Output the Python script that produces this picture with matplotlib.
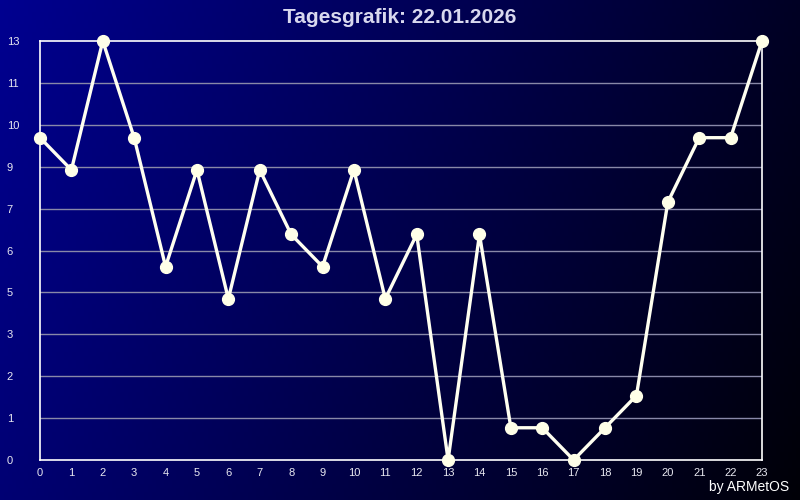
import matplotlib

matplotlib.use("Agg")
import matplotlib.pyplot as plt  # noqa: E402
import numpy as np  # noqa: E402

hours = list(range(24))
values = [10, 9, 13, 10, 6, 9, 5, 9, 7, 6, 9, 5, 7, 0, 7, 1, 1, 0, 1, 2, 8, 10, 10, 13]
y_max = 13
n_grid = 10
title = "Tagesgrafik: 22.01.2026"
credit = "by ARMetOS"

plt.rcParams["font.family"] = ["Liberation Sans", "DejaVu Sans"]

fig = plt.figure(figsize=(8, 5), dpi=100)

# background gradient: dark blue top-left fading to black bottom-right
bg = fig.add_axes([0, 0, 1, 1], zorder=-10)
xx, yy = np.meshgrid(np.linspace(0, 1, 200), np.linspace(0, 1, 125))
blue = 0x90 / 255 * np.clip(1 - 0.75 * xx - 0.2 * yy, 0, 1)
img = np.dstack([np.zeros_like(blue), np.zeros_like(blue), blue])
bg.imshow(img, aspect="auto", extent=(0, 1, 1, 0))
bg.set_axis_off()

ax = fig.add_axes([0.05, 0.08, 0.9025, 0.838])
ax.set_facecolor("none")
ax.set_xlim(0, 23)
ax.set_ylim(0, y_max)

yt = np.linspace(0, y_max, n_grid + 1)
ax.set_yticks(yt)
ax.set_yticklabels([str(int(v)) for v in yt])
ax.set_xticks(hours)
ax.tick_params(length=0, colors="#E8E8F0", labelsize=8)
ax.tick_params(axis="y", pad=24)
for lbl in ax.get_yticklabels():
    lbl.set_horizontalalignment("left")
ax.tick_params(axis="x", pad=6)

for v in yt[1:-1]:
    ax.axhline(v, color="#8888A8", lw=1, zorder=1)
for s in ax.spines.values():
    s.set_color("white")
    s.set_linewidth(1.2)

ax.plot(hours, values, color="#FFFFF0", lw=2.4, marker="o", ms=8.5,
        mfc="#FFFFE8", mec="#FFFFE8", zorder=5, clip_on=False)

fig.text(0.5, 0.965, title, ha="center", va="center", fontsize=15,
         fontweight="bold", color="#D8D8EE")
fig.text(0.987, 0.025, credit, ha="right", va="center", fontsize=10, color="white")

fig.savefig("out.png", dpi=100)
